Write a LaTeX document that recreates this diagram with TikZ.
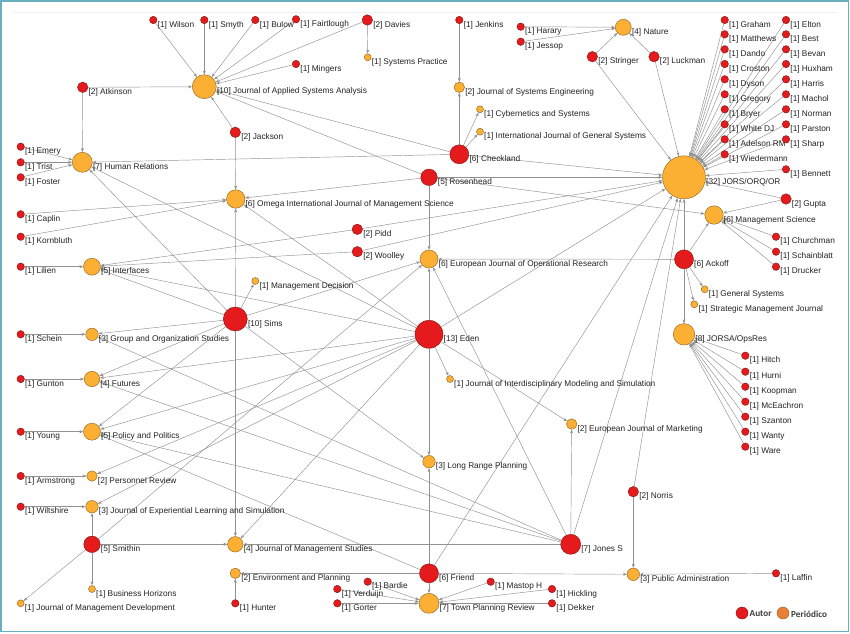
\documentclass[tikz,border=0pt]{standalone}
\usepackage{fontspec}
\setmainfont{Liberation Sans}
\newfontfamily\legfont{Carlito}
\usetikzlibrary{arrows.meta}
\pgfdeclarelayer{bg}
\pgfdeclarelayer{back}
\pgfsetlayers{back,bg,main}
\definecolor{aufill}{RGB}{228,26,28}
\definecolor{audraw}{RGB}{130,20,20}
\definecolor{jofill}{RGB}{251,176,52}
\definecolor{jodraw}{RGB}{140,95,30}
\definecolor{edgec}{RGB}{145,145,145}
\definecolor{lbltext}{RGB}{35,35,35}
\definecolor{framec}{RGB}{105,175,190}
\definecolor{legor}{RGB}{232,128,56}
\definecolor{legtext}{RGB}{60,60,60}
\newcommand\lblfont{\fontsize{8.3}{10}\selectfont}
\tikzset{
  x=1pt, y=-1pt,
  au/.style={circle, draw=audraw, fill=aufill, line width=0.4pt, inner sep=0pt},
  jo/.style={circle, draw=jodraw, fill=jofill, line width=0.4pt, inner sep=0pt},
  lbl/.style={anchor=west, inner sep=0pt, font=\lblfont, text=lbltext},
  ed/.style={draw=edgec, line width=0.45pt, -{Stealth[length=4pt,width=3pt]}},
  legtxt/.style={anchor=west, inner sep=0pt, font=\legfont\bfseries\fontsize{9.2}{11}\selectfont, text=legtext}
}
\newcommand\mkau[5]{\node[au, minimum size=#4pt] (#1) at (#2,#3) {};
  \node[lbl] (#1-l) at ({#2+#4/2+0.5},{#3+5}) {#5};}
\newcommand\mkjo[5]{\node[jo, minimum size=#4pt] (#1) at (#2,#3) {};
  \node[lbl] (#1-l) at ({#2+#4/2+0.5},{#3+5}) {#5};}
\begin{document}
\begin{tikzpicture}
\useasboundingbox (0,0) rectangle (850,633);
\begin{pgfonlayer}{back}
\fill[white] (0,0) rectangle (850,633);
\draw[framec, line width=1.6pt] (1,1) rectangle (848.5,631.5);
\draw[black!6, line width=0.5pt] (13,12) -- (837,12);
\end{pgfonlayer}

% ---------- authors ----------
\mkau{wilson}{153.3}{20}{7.5}{[1] Wilson}
\mkau{smyth}{204.3}{20}{7.5}{[1] Smyth}
\mkau{bulow}{255.3}{20}{7.5}{[1] Bulow}
\mkau{fairtlough}{296}{19.3}{7.5}{[1] Fairtlough}
\mkau{davies}{367.3}{20}{10.5}{[2] Davies}
\mkau{mingers}{296}{64}{7.5}{[1] Mingers}
\mkau{jenkins}{459.3}{20}{7.5}{[1] Jenkins}
\mkau{harary}{520.7}{26.7}{7.5}{[1] Harary}
\mkau{jessop}{520.7}{41.7}{7.5}{[1] Jessop}
\mkau{stringer}{592.3}{56.7}{10.5}{[2] Stringer}
\mkau{luckman}{654}{56.7}{10.5}{[2] Luckman}
\mkau{atkinson}{82.7}{87.3}{10.5}{[2] Atkinson}
\mkau{jackson}{235.3}{132.3}{10.5}{[2] Jackson}
\mkau{emery}{20.7}{146.7}{7.5}{[1] Emery}
\mkau{trist}{20.7}{162.3}{7.5}{[1] Trist}
\mkau{foster}{20.7}{177.3}{7.5}{[1] Foster}
\mkau{checkland}{459.3}{154.3}{19}{[6] Checkland}
\mkau{rosenhead}{429}{177.3}{16.5}{[5] Rosenhead}
\mkau{graham}{724.7}{20}{7.5}{[1] Graham}
\mkau{matthews}{724.7}{34.3}{7.5}{[1] Matthews}
\mkau{dando}{724.7}{49.3}{7.5}{[1] Dando}
\mkau{croston}{724.7}{64}{7.5}{[1] Croston}
\mkau{dyson}{724.7}{79.3}{7.5}{[1] Dyson}
\mkau{gregory}{724.7}{94.3}{7.5}{[1] Gregory}
\mkau{bryer}{724.7}{109.3}{7.5}{[1] Bryer}
\mkau{whitedj}{724.7}{124.3}{7.5}{[1] White DJ}
\mkau{adelson}{724.7}{139.3}{7.5}{[1] Adelson RM}
\mkau{wiedermann}{724.7}{154.3}{7.5}{[1] Wiedermann}
\mkau{elton}{786}{20}{7.5}{[1] Elton}
\mkau{best}{786}{34.3}{7.5}{[1] Best}
\mkau{bevan}{786}{49.3}{7.5}{[1] Bevan}
\mkau{huxham}{786}{64}{7.5}{[1] Huxham}
\mkau{harris}{786}{79.3}{7.5}{[1] Harris}
\mkau{machol}{786}{94.3}{7.5}{[1] Machol}
\mkau{norman}{786}{109.3}{7.5}{[1] Norman}
\mkau{parston}{786}{124.3}{7.5}{[1] Parston}
\mkau{sharp}{786}{139.3}{7.5}{[1] Sharp}
\mkau{bennett}{786}{169.3}{7.5}{[1] Bennett}
\mkau{gupta}{786}{199}{10.5}{[2] Gupta}
\mkau{churchman}{776}{236.7}{7.5}{[1] Churchman}
\mkau{schainblatt}{776}{251.7}{7.5}{[1] Schainblatt}
\mkau{drucker}{776}{266.7}{7.5}{[1] Drucker}
\mkau{ackoff}{684}{259.3}{19}{[6] Ackoff}
\mkau{hitch}{745.3}{355.7}{7.5}{[1] Hitch}
\mkau{hurni}{745.3}{371.7}{7.5}{[1] Hurni}
\mkau{koopman}{745.3}{386.7}{7.5}{[1] Koopman}
\mkau{mceachron}{745.3}{401.7}{7.5}{[1] McEachron}
\mkau{szanton}{745.3}{416.7}{7.5}{[1] Szanton}
\mkau{wanty}{745.3}{431.7}{7.5}{[1] Wanty}
\mkau{ware}{745.3}{446.7}{7.5}{[1] Ware}
\mkau{caplin}{20.7}{214.3}{7.5}{[1] Caplin}
\mkau{kornbluth}{20.7}{236.7}{7.5}{[1] Kornbluth}
\mkau{lilien}{20.7}{266.7}{7.5}{[1] Lilien}
\mkau{pidd}{357.3}{229.3}{10.5}{[2] Pidd}
\mkau{woolley}{357.3}{251.7}{10.5}{[2] Woolley}
\mkau{sims}{235.3}{319}{24}{[10] Sims}
\mkau{eden}{429}{334.3}{28}{[13] Eden}
\mkau{schein}{20.7}{334.3}{7.5}{[1] Schein}
\mkau{gunton}{20.7}{379}{7.5}{[1] Gunton}
\mkau{young}{20.7}{431.7}{7.5}{[1] Young}
\mkau{armstrong}{20.7}{476}{7.5}{[1] Armstrong}
\mkau{wiltshire}{20.7}{506.7}{7.5}{[1] Wiltshire}
\mkau{smithin}{92}{544.3}{16.5}{[5] Smithin}
\mkau{hunter}{235.3}{603.3}{7.5}{[1] Hunter}
\mkau{jones}{570.7}{544.3}{20}{[7] Jones S}
\mkau{friend}{429}{573.3}{19}{[6] Friend}
\mkau{bardie}{367.7}{581.7}{7.5}{[1] Bardie}
\mkau{verduijn}{337.3}{589}{7.5}{[1] Verduijn}
\mkau{gorter}{337.3}{603.3}{7.5}{[1] Gorter}
\mkau{mastop}{490.7}{581.7}{7.5}{[1] Mastop H}
\mkau{hickling}{552}{589}{7.5}{[1] Hickling}
\mkau{dekker}{552}{603.3}{7.5}{[1] Dekker}
\mkau{norris}{633.3}{491.7}{10.5}{[2] Norris}
\mkau{laffin}{776}{573.3}{7.5}{[1] Laffin}

% ---------- journals ----------
\mkjo{jasa}{204.3}{86.7}{24}{[10] Journal of Applied Systems Analysis}
\mkjo{sp}{367.7}{57.3}{7}{[1] Systems Practice}
\mkjo{nature}{623.3}{27.3}{16}{[4] Nature}
\mkjo{jse}{459.3}{87.3}{10.5}{[2] Journal of Systems Engineering}
\mkjo{cyb}{480}{109.3}{7}{[1] Cybernetics and Systems}
\mkjo{ijgs}{480}{131.7}{7}{[1] International Journal of General Systems}
\mkjo{hr}{82.3}{162.3}{20}{[7] Human Relations}
\mkjo{omega}{235.7}{199}{18.5}{[6] Omega International Journal of Management Science}
\mkjo{jors}{684}{177.3}{43}{[32] JORS/ORQ/OR}
\mkjo{ms}{714}{215}{18.5}{[6] Management Science}
\mkjo{gs}{704.7}{289.3}{7}{[1] General Systems}
\mkjo{smj}{694.3}{304.3}{7}{[1] Strategic Management Journal}
\mkjo{jorsa}{684}{334.3}{21.5}{[8] JORSA/OpsRes}
\mkjo{interfaces}{92}{266.7}{17}{[5] Interfaces}
\mkjo{md}{255.3}{281}{7}{[1] Management Decision}
\mkjo{ejor}{429}{259}{18}{[6] European Journal of Operational Research}
\mkjo{gos}{92}{334.3}{12.5}{[3] Group and Organization Studies}
\mkjo{futures}{92}{379}{15.5}{[4] Futures}
\mkjo{jims}{450}{379}{7}{[1] Journal of Interdisciplinary Modeling and Simulation}
\mkjo{ejm}{571.7}{424}{10.5}{[2] European Journal of Marketing}
\mkjo{pp}{92}{431.7}{17}{[5] Policy and Politics}
\mkjo{pr}{92}{476}{10.5}{[2] Personnel Review}
\mkjo{jels}{92}{506.7}{12.5}{[3] Journal of Experiential Learning and Simulation}
\mkjo{lrp}{429}{461.7}{12.5}{[3] Long Range Planning}
\mkjo{jms}{235.3}{544.3}{15.5}{[4] Journal of Management Studies}
\mkjo{ep}{235.3}{573.3}{10.5}{[2] Environment and Planning}
\mkjo{bh}{92}{589}{7}{[1] Business Horizons}
\mkjo{jmd}{20.7}{603.3}{7}{[1] Journal of Management Development}
\mkjo{tpr}{429}{603.3}{20}{[7] Town Planning Review}
\mkjo{pa}{633.3}{574.3}{12.5}{[3] Public Administration}

% ---------- legend ----------
\node[au, minimum size=12pt] (legau) at (742,613) {};
\node[legtxt] (legau-l) at (749.5,614) {Autor};
\node[circle, draw=jodraw, fill=legor, line width=0.4pt, inner sep=0pt, minimum size=12pt] (legjo) at (783,613) {};
\node[legtxt] (legjo-l) at (791,614) {Periódico};

% ---------- edges ----------
\begin{pgfonlayer}{bg}
\foreach \s in {wilson,smyth,bulow,fairtlough,davies,mingers,atkinson,jackson,checkland,rosenhead}
  \draw[ed] (\s) -- (jasa);
\draw[ed] (davies) -- (sp);
\foreach \s in {emery,trist,foster,atkinson,checkland,sims,eden}
  \draw[ed] (\s) -- (hr);
\foreach \s in {caplin,kornbluth,jackson,rosenhead,sims,eden}
  \draw[ed] (\s) -- (omega);
\foreach \s in {jenkins,checkland}
  \draw[ed] (\s) -- (jse);
\draw[ed] (checkland) -- (cyb);
\draw[ed] (checkland) -- (ijgs);
\foreach \s in {harary,jessop,stringer,luckman}
  \draw[ed] (\s) -- (nature);
\foreach \s in {graham,matthews,dando,croston,dyson,gregory,bryer,whitedj,adelson,wiedermann,
  elton,best,bevan,huxham,harris,machol,norman,parston,sharp,bennett,gupta,stringer,luckman,
  checkland,rosenhead,pidd,woolley,ackoff,eden,jones,friend,norris}
  \draw[ed] (\s) -- (jors);
\foreach \s in {gupta,churchman,schainblatt,drucker,ackoff,rosenhead}
  \draw[ed] (\s) -- (ms);
\draw[ed] (ackoff) -- (gs);
\draw[ed] (ackoff) -- (smj);
\foreach \s in {ackoff,hitch,hurni,koopman,mceachron,szanton,wanty,ware}
  \draw[ed] (\s) -- (jorsa);
\foreach \s in {rosenhead,ackoff,eden,sims,smithin,jones}
  \draw[ed] (\s) -- (ejor);
\foreach \s in {lilien,pidd,woolley,sims,eden}
  \draw[ed] (\s) -- (interfaces);
\draw[ed] (sims) -- (md);
\foreach \s in {schein,sims,jones}
  \draw[ed] (\s) -- (gos);
\foreach \s in {gunton,sims,eden,jones}
  \draw[ed] (\s) -- (futures);
\foreach \s in {young,sims,eden,jones,friend}
  \draw[ed] (\s) -- (pp);
\foreach \s in {armstrong,eden}
  \draw[ed] (\s) -- (pr);
\foreach \s in {wiltshire,smithin,eden}
  \draw[ed] (\s) -- (jels);
\foreach \s in {smithin,sims,eden,jones}
  \draw[ed] (\s) -- (jms);
\foreach \s in {hunter,friend}
  \draw[ed] (\s) -- (ep);
\draw[ed] (smithin) -- (bh);
\draw[ed] (smithin) -- (jmd);
\foreach \s in {eden,sims,friend}
  \draw[ed] (\s) -- (lrp);
\draw[ed] (eden) -- (jims);
\foreach \s in {eden,jones}
  \draw[ed] (\s) -- (ejm);
\foreach \s in {friend,bardie,verduijn,gorter,mastop,hickling,dekker}
  \draw[ed] (\s) -- (tpr);
\foreach \s in {friend,norris,laffin}
  \draw[ed] (\s) -- (pa);
\end{pgfonlayer}
\end{tikzpicture}
\end{document}
